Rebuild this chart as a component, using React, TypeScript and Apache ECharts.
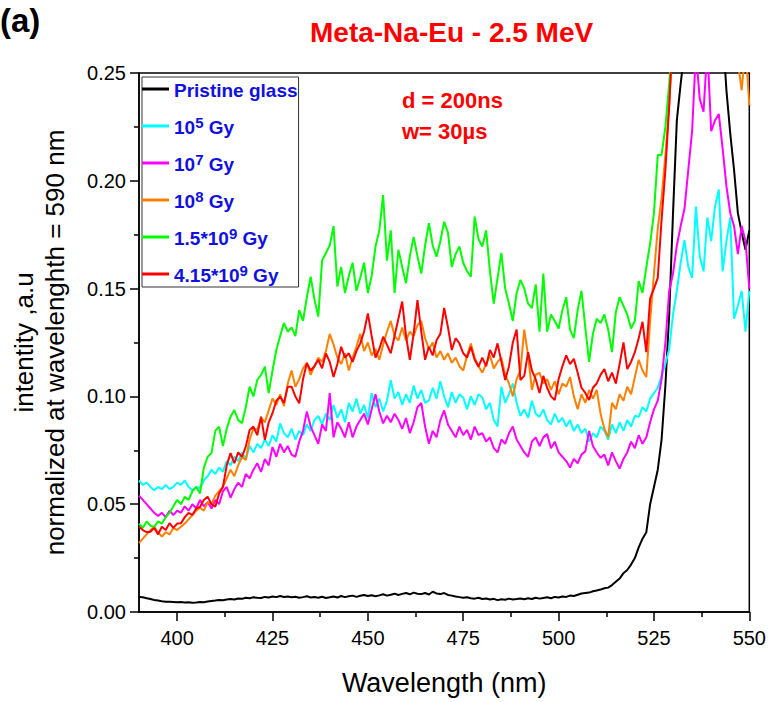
import React, { useEffect, useRef } from "react";
import * as echarts from "echarts";

const FONT = "'Liberation Sans', Arial, sans-serif";

const WL_START = 390;
const WL_STEP = 1;

const seriesNames = ["Pristine glass", "10^5 Gy", "10^7 Gy", "10^8 Gy", "1.5*10^9 Gy", "4.15*10^9 Gy"];
const seriesColors = ["#000000", "#00ffff", "#ff00ff", "#ff8000", "#00ff00", "#ff0000"];

const xMajorTicks = [400, 425, 450, 475, 500, 525, 550];
const xMinorTicks = [412.5, 437.5, 462.5, 487.5, 512.5, 537.5];

// Intensities, 390..550 nm, 1 nm step
const pristine = [
  0.0070, 0.0068, 0.0064, 0.0060, 0.0056, 0.0053, 0.0050, 0.0048, 0.0047, 0.0046,
  0.0045, 0.0046, 0.0044, 0.0045, 0.0043, 0.0044, 0.0046, 0.0045, 0.0049, 0.0051,
  0.0053, 0.0056, 0.0055, 0.0058, 0.0060, 0.0058, 0.0063, 0.0061, 0.0066, 0.0064,
  0.0068, 0.0066, 0.0065, 0.0070, 0.0067, 0.0072, 0.0069, 0.0074, 0.0070, 0.0072,
  0.0068, 0.0071, 0.0066, 0.0069, 0.0073, 0.0067, 0.0070, 0.0066, 0.0071, 0.0065,
  0.0068, 0.0072, 0.0067, 0.0074, 0.0069, 0.0073, 0.0076, 0.0070, 0.0075, 0.0079,
  0.0074, 0.0078, 0.0073, 0.0077, 0.0082, 0.0076, 0.0080, 0.0085, 0.0079, 0.0084,
  0.0088, 0.0082, 0.0090, 0.0085, 0.0083, 0.0088, 0.0081, 0.0094, 0.0086, 0.0083,
  0.0088, 0.0079, 0.0076, 0.0072, 0.0069, 0.0066, 0.0068, 0.0064, 0.0062, 0.0066,
  0.0060, 0.0063, 0.0058, 0.0061, 0.0055, 0.0059, 0.0057, 0.0062, 0.0058, 0.0060,
  0.0063, 0.0059, 0.0064, 0.0060, 0.0066, 0.0062, 0.0065, 0.0068, 0.0064, 0.0070,
  0.0067, 0.0072, 0.0070, 0.0076, 0.0074, 0.0080, 0.0086, 0.0088, 0.0090, 0.0096,
  0.0100, 0.0104, 0.0110, 0.0113, 0.0125, 0.0140, 0.0155, 0.0180, 0.0195, 0.0220,
  0.0250, 0.0300, 0.0340, 0.0370, 0.0500, 0.0580, 0.0660, 0.0800, 0.1050, 0.1380,
  0.1850, 0.2280, 0.2450, 0.2600, 0.3300, 0.3800, 0.4200, 0.4500, 0.4600, 0.4500,
  0.4200, 0.3800, 0.3300, 0.2700, 0.2420, 0.2220, 0.2050, 0.1850, 0.1760, 0.1680,
  0.1770,
];

const gy1e5 = [
  0.061, 0.059, 0.060, 0.058, 0.0565, 0.058, 0.057, 0.059, 0.057, 0.058,
  0.060, 0.059, 0.061, 0.058, 0.0565, 0.058, 0.0575, 0.061, 0.063, 0.066,
  0.064, 0.067, 0.065, 0.070, 0.068, 0.072, 0.070, 0.074, 0.071, 0.077,
  0.074, 0.078, 0.076, 0.080, 0.077, 0.082, 0.079, 0.0875, 0.083, 0.081,
  0.085, 0.080, 0.084, 0.082, 0.087, 0.084, 0.089, 0.091, 0.087, 0.092,
  0.089, 0.096, 0.090, 0.094, 0.088, 0.097, 0.093, 0.099, 0.092, 0.096,
  0.090, 0.1015, 0.095, 0.099, 0.093, 0.098, 0.1075, 0.099, 0.102, 0.096,
  0.101, 0.097, 0.105, 0.099, 0.103, 0.097, 0.098, 0.104, 0.099, 0.107,
  0.100, 0.095, 0.102, 0.097, 0.101, 0.0995, 0.094, 0.100, 0.096, 0.101,
  0.0995, 0.094, 0.097, 0.089, 0.086, 0.1045, 0.097, 0.101, 0.106, 0.097,
  0.091, 0.094, 0.090, 0.098, 0.092, 0.0905, 0.094, 0.089, 0.087, 0.092,
  0.088, 0.090, 0.086, 0.089, 0.084, 0.087, 0.083, 0.085, 0.079, 0.083,
  0.081, 0.086, 0.084, 0.080, 0.087, 0.083, 0.088, 0.084, 0.089, 0.086,
  0.091, 0.0905, 0.095, 0.093, 0.099, 0.1015, 0.104, 0.1095, 0.115, 0.122,
  0.138, 0.149, 0.162, 0.1725, 0.160, 0.155, 0.188, 0.165, 0.158, 0.183,
  0.172, 0.188, 0.196, 0.158, 0.172, 0.183, 0.136, 0.142, 0.149, 0.130,
  0.149,
];

const gy1e7 = [
  0.054, 0.052, 0.050, 0.048, 0.046, 0.0445, 0.046, 0.044, 0.047, 0.045,
  0.047, 0.046, 0.049, 0.047, 0.050, 0.048, 0.052, 0.049, 0.051, 0.048,
  0.052, 0.050, 0.056, 0.058, 0.053, 0.057, 0.060, 0.058, 0.064, 0.062,
  0.066, 0.069, 0.065, 0.071, 0.068, 0.0765, 0.072, 0.078, 0.074, 0.077,
  0.073, 0.072, 0.079, 0.084, 0.093, 0.086, 0.082, 0.078, 0.087, 0.084,
  0.1015, 0.081, 0.088, 0.085, 0.081, 0.088, 0.081, 0.086, 0.089, 0.092,
  0.087, 0.094, 0.101, 0.093, 0.0875, 0.091, 0.088, 0.092, 0.089, 0.085,
  0.090, 0.083, 0.088, 0.095, 0.097, 0.086, 0.078, 0.084, 0.081, 0.089,
  0.0935, 0.087, 0.084, 0.081, 0.086, 0.082, 0.0845, 0.080, 0.086, 0.082,
  0.083, 0.079, 0.081, 0.076, 0.074, 0.080, 0.078, 0.083, 0.086, 0.080,
  0.077, 0.074, 0.072, 0.079, 0.081, 0.077, 0.081, 0.0825, 0.076, 0.079,
  0.074, 0.072, 0.070, 0.067, 0.071, 0.069, 0.073, 0.0745, 0.084, 0.077,
  0.074, 0.0715, 0.073, 0.068, 0.074, 0.070, 0.0665, 0.071, 0.074, 0.079,
  0.076, 0.082, 0.078, 0.081, 0.088, 0.094, 0.098, 0.108, 0.125, 0.149,
  0.157, 0.170, 0.179, 0.187, 0.205, 0.223, 0.260, 0.238, 0.232, 0.262,
  0.223, 0.228, 0.231, 0.215, 0.1975, 0.185, 0.179, 0.166, 0.179, 0.172,
  0.150,
];

const gy1e8 = [
  0.032, 0.034, 0.036, 0.038, 0.0395, 0.037, 0.035, 0.037, 0.036, 0.039,
  0.038, 0.0395, 0.041, 0.043, 0.045, 0.047, 0.0485, 0.047, 0.051, 0.050,
  0.054, 0.056, 0.058, 0.062, 0.066, 0.063, 0.068, 0.072, 0.0705, 0.080,
  0.085, 0.0845, 0.090, 0.088, 0.0935, 0.099, 0.096, 0.101, 0.0955, 0.106,
  0.112, 0.1045, 0.108, 0.113, 0.1155, 0.110, 0.114, 0.118, 0.116, 0.121,
  0.129, 0.124, 0.118, 0.115, 0.120, 0.112, 0.118, 0.123, 0.129, 0.121,
  0.125, 0.119, 0.122, 0.117, 0.124, 0.130, 0.135, 0.128, 0.126, 0.132,
  0.126, 0.130, 0.128, 0.133, 0.135, 0.127, 0.122, 0.125, 0.118, 0.121,
  0.117, 0.120, 0.1155, 0.118, 0.114, 0.112, 0.119, 0.1245, 0.118, 0.114,
  0.111, 0.115, 0.119, 0.113, 0.116, 0.118, 0.110, 0.106, 0.100, 0.108,
  0.112, 0.131, 0.119, 0.103, 0.110, 0.111, 0.106, 0.108, 0.103, 0.107,
  0.101, 0.106, 0.1045, 0.109, 0.100, 0.094, 0.101, 0.097, 0.103, 0.099,
  0.103, 0.092, 0.085, 0.081, 0.097, 0.094, 0.101, 0.098, 0.1045, 0.101,
  0.109, 0.117, 0.112, 0.109, 0.135, 0.157, 0.178, 0.192, 0.212, 0.235,
  0.270, 0.310, 0.350, 0.380, 0.400, 0.420, 0.430, 0.430, 0.420, 0.410,
  0.400, 0.380, 0.360, 0.330, 0.300, 0.280, 0.265, 0.255, 0.242, 0.262,
  0.235,
];

const gy15e9 = [
  0.041, 0.039, 0.042, 0.040, 0.0395, 0.042, 0.041, 0.044, 0.046, 0.049,
  0.052, 0.050, 0.0535, 0.052, 0.056, 0.058, 0.055, 0.067, 0.072, 0.0737,
  0.084, 0.086, 0.077, 0.085, 0.0906, 0.0937, 0.089, 0.0876, 0.095, 0.1045,
  0.100, 0.1076, 0.110, 0.1138, 0.1015, 0.112, 0.1215, 0.128, 0.134, 0.130,
  0.132, 0.128, 0.140, 0.135, 0.146, 0.1555, 0.145, 0.137, 0.163, 0.1665,
  0.170, 0.179, 0.151, 0.160, 0.148, 0.156, 0.162, 0.149, 0.155, 0.162,
  0.148, 0.156, 0.1695, 0.177, 0.1934, 0.163, 0.177, 0.148, 0.168, 0.160,
  0.1525, 0.165, 0.174, 0.165, 0.157, 0.170, 0.1804, 0.170, 0.1648, 0.172,
  0.181, 0.176, 0.160, 0.166, 0.1695, 0.162, 0.158, 0.1555, 0.1834, 0.173,
  0.1695, 0.177, 0.158, 0.143, 0.155, 0.1665, 0.150, 0.143, 0.135, 0.148,
  0.154, 0.150, 0.143, 0.141, 0.152, 0.130, 0.157, 0.130, 0.138, 0.135,
  0.1315, 0.140, 0.146, 0.131, 0.127, 0.140, 0.149, 0.132, 0.116, 0.129,
  0.136, 0.134, 0.138, 0.131, 0.1205, 0.139, 0.146, 0.142, 0.138, 0.1315,
  0.135, 0.1535, 0.148, 0.160, 0.171, 0.185, 0.212, 0.212, 0.225, 0.245,
  0.270, 0.300, 0.330, 0.360, 0.390, 0.420, 0.440, 0.460, 0.470, 0.470,
  0.460, 0.450, 0.430, 0.410, 0.390, 0.370, 0.350, 0.330, 0.320, 0.310,
  0.300,
];

const gy415e9 = [
  0.0396, 0.038, 0.037, 0.0372, 0.039, 0.036, 0.0396, 0.038, 0.0412, 0.039,
  0.041, 0.0412, 0.044, 0.046, 0.045, 0.048, 0.0488, 0.052, 0.0535, 0.050,
  0.0488, 0.055, 0.058, 0.068, 0.0737, 0.069, 0.074, 0.072, 0.0767, 0.0844,
  0.086, 0.082, 0.0906, 0.0798, 0.088, 0.0922, 0.098, 0.0999, 0.097, 0.1045,
  0.1045, 0.100, 0.0968, 0.108, 0.1155, 0.112, 0.114, 0.117, 0.113, 0.120,
  0.116, 0.109, 0.115, 0.123, 0.118, 0.120, 0.116, 0.121, 0.1246, 0.130,
  0.1385, 0.128, 0.118, 0.122, 0.1277, 0.124, 0.120, 0.128, 0.136, 0.144,
  0.128, 0.117, 0.129, 0.1447, 0.130, 0.117, 0.123, 0.119, 0.126, 0.129,
  0.141, 0.132, 0.1215, 0.127, 0.1246, 0.120, 0.118, 0.123, 0.117, 0.1138,
  0.118, 0.114, 0.1215, 0.118, 0.1246, 0.116, 0.1076, 0.114, 0.125, 0.131,
  0.1076, 0.1095, 0.1205, 0.112, 0.108, 0.1016, 0.1095, 0.104, 0.100, 0.0983,
  0.108, 0.114, 0.119, 0.115, 0.1174, 0.111, 0.104, 0.1016, 0.0983, 0.104,
  0.106, 0.110, 0.1127, 0.107, 0.111, 0.106, 0.115, 0.125, 0.1127, 0.116,
  0.1205, 0.127, 0.1346, 0.1205, 0.1455, 0.150, 0.155, 0.182, 0.205, 0.235,
  0.270, 0.310, 0.350, 0.390, 0.420, 0.450, 0.470, 0.480, 0.490, 0.490,
  0.480, 0.470, 0.450, 0.430, 0.410, 0.390, 0.370, 0.350, 0.330, 0.320,
  0.310,
];

const seriesValues = [pristine, gy1e5, gy1e7, gy1e8, gy15e9, gy415e9];

const LEGEND_BLUE = "#1010e0";

function legendFormatter(name: string): string {
  const m = name.match(/^(.*)\^(\d+)(.*)$/);
  if (m) return `{b|${m[1]}}{s|${m[2]}}{b|${m[3]}}`;
  return `{b|${name}}`;
}

export default function App() {
  const ref = useRef<HTMLDivElement>(null);

  useEffect(() => {
    if (!ref.current) return;
    const chart = echarts.init(ref.current, undefined, { renderer: "svg" });

    const series = seriesNames.map((name, si) => ({
      name,
      type: "line",
      symbol: "none",
      showSymbol: false,
      clip: true,
      z: 2 + si,
      color: seriesColors[si],
      lineStyle: { color: seriesColors[si], width: 2 },
      data: seriesValues[si].map((v, i) => [WL_START + i * WL_STEP, v]),
    }));

    const tickLine = { color: "#000", width: 1.5 };

    chart.setOption({
      animation: false,
      backgroundColor: "#ffffff",
      title: {
        text: "Meta-Na-Eu - 2.5 MeV",
        left: 310,
        top: 17,
        padding: 0,
        textStyle: { color: "#ff0000", fontSize: 28, fontWeight: "bold", fontFamily: FONT, lineHeight: 30 },
      },
      grid: {
        left: 135,
        right: 16,
        top: 73,
        bottom: 90,
        show: true,
        borderColor: "#000",
        borderWidth: 1.5,
        backgroundColor: "transparent",
      },
      legend: {
        orient: "vertical",
        left: 142,
        top: 77,
        padding: [4, 1, 2, 0],
        icon: "rect",
        itemWidth: 27,
        itemHeight: 3,
        itemGap: 15,
        borderColor: "#333",
        borderWidth: 1,
        data: seriesNames,
        formatter: legendFormatter,
        textStyle: {
          color: LEGEND_BLUE,
          fontSize: 19,
          fontWeight: "bold",
          fontFamily: FONT,
          rich: {
            b: { color: LEGEND_BLUE, fontSize: 19, fontWeight: "bold", fontFamily: FONT, lineHeight: 22, verticalAlign: "bottom" },
            s: { color: LEGEND_BLUE, fontSize: 15, fontWeight: "bold", fontFamily: FONT, lineHeight: 12, verticalAlign: "top" },
          },
        },
      },
      xAxis: [
        {
          type: "value",
          min: 390,
          max: 550,
          position: "bottom",
          name: "Wavelength (nm)",
          nameLocation: "middle",
          nameGap: 57,
          nameTextStyle: { color: "#000", fontSize: 27, fontFamily: FONT },
          axisLine: { show: true, lineStyle: tickLine },
          axisTick: { show: true, length: 9, customValues: xMajorTicks, lineStyle: tickLine },
          axisLabel: { show: true, customValues: xMajorTicks, fontSize: 20, color: "#000", fontFamily: FONT, margin: 16 },
          splitLine: { show: false },
        },
        {
          type: "value",
          min: 390,
          max: 550,
          position: "bottom",
          axisLine: { show: false },
          axisTick: { show: true, length: 5, customValues: xMinorTicks, lineStyle: tickLine },
          axisLabel: { show: false },
          splitLine: { show: false },
        },
      ],
      yAxis: {
        type: "value",
        min: 0,
        max: 0.25,
        interval: 0.05,
        name: "intentity ,a.u\nnormalized at wavelenghth = 590 nm",
        nameLocation: "middle",
        nameRotate: 90,
        nameGap: 69,
        nameTextStyle: { color: "#000", fontSize: 26, fontFamily: FONT, lineHeight: 31 },
        axisLine: { show: true, lineStyle: tickLine },
        axisTick: { show: true, length: 9, lineStyle: tickLine },
        minorTick: { show: true, splitNumber: 2, length: 5, lineStyle: tickLine },
        axisLabel: {
          formatter: (v: number) => v.toFixed(2),
          fontSize: 20,
          color: "#000",
          fontFamily: FONT,
          margin: 13,
        },
        splitLine: { show: false },
        minorSplitLine: { show: false },
      },
      graphic: [
        {
          type: "text",
          left: 0,
          top: 4,
          style: { text: "(a)", fill: "#000", font: `bold 33px ${FONT}` },
        },
        {
          type: "text",
          left: 402,
          top: 89,
          style: { text: "d = 200ns", fill: "#ff0000", font: `bold 22px ${FONT}` },
        },
        {
          type: "text",
          left: 402,
          top: 120,
          style: { text: "w= 30µs", fill: "#ff0000", font: `bold 22px ${FONT}` },
        },
      ],
      series,
    });

    return () => {
      chart.dispose();
    };
  }, []);

  return (
    <div
      ref={ref}
      style={{ position: "fixed", left: 0, top: 0, width: 769, height: 702, background: "#fff" }}
    />
  );
}
